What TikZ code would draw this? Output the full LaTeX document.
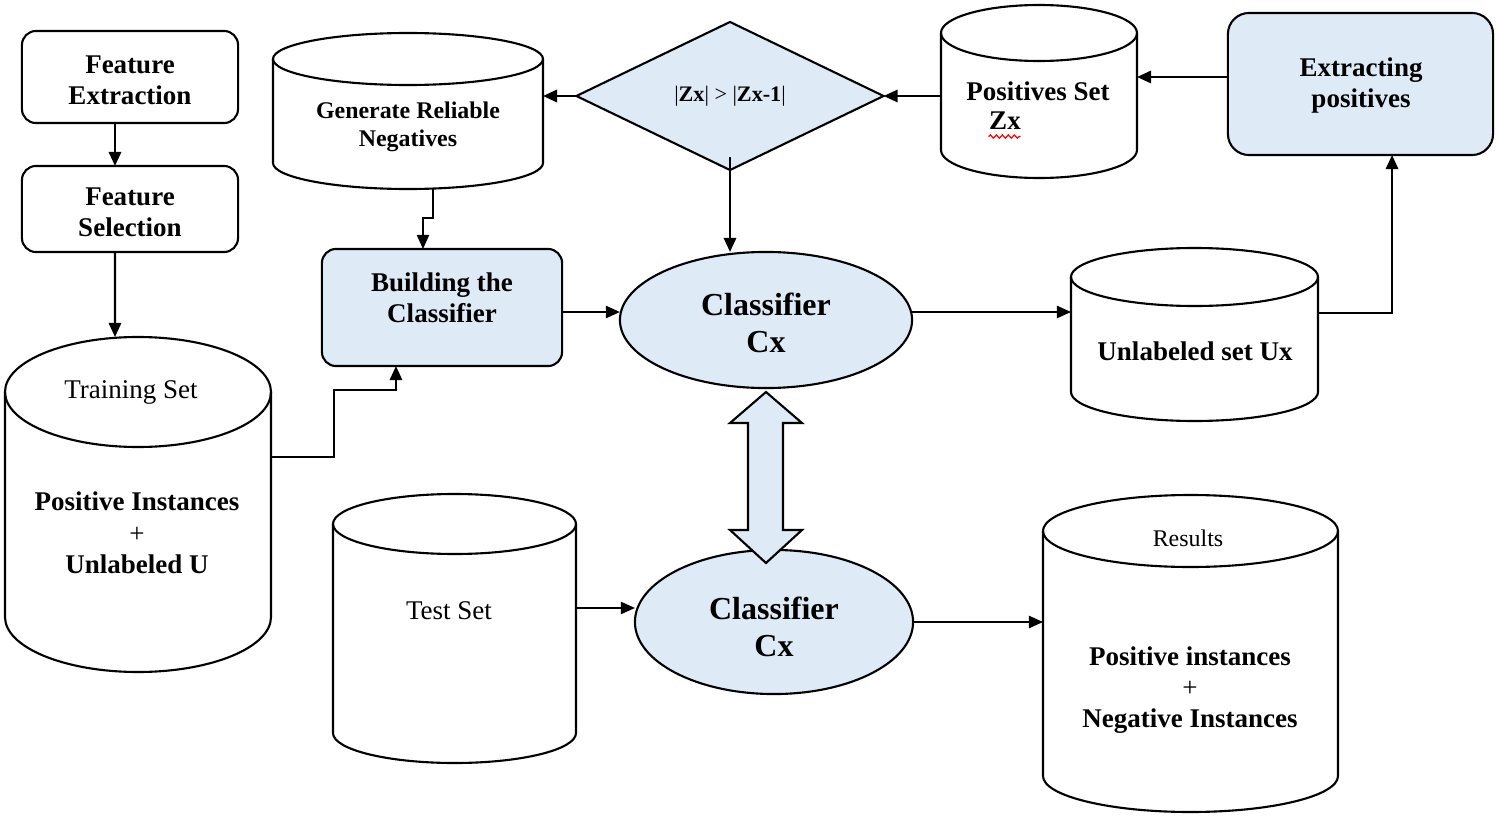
\documentclass[tikz,border=0pt]{standalone}
\usepackage{fontspec}
\setmainfont{Liberation Serif}
\usetikzlibrary{shapes.geometric,arrows.meta,decorations.pathmorphing,calc}
\definecolor{lb}{HTML}{DEEAF6}
\newcommand\cylnode[6]{%
  \pgfmathsetmacro\cylrx{(#3-#2)/2*0.01}%
  \pgfmathsetmacro\cylry{#6*0.01}%
  \pgfmathsetmacro\cylw{(#3-#2)*0.01}%
  \pgfmathsetmacro\cylh{(#5-#4+2*#6)*0.01}%
  \pgfmathsetmacro\cylcx{(#2+#3)/2}%
  \pgfmathsetmacro\cylcy{(#4+#5)/2}%
  \draw[shp,fill=white] (#2,#4) -- (#2,#5) arc[start angle=180,end angle=360,x radius=\cylrx cm,y radius=\cylry cm] -- (#3,#4) arc[start angle=0,end angle=180,x radius=\cylrx cm,y radius=\cylry cm] -- cycle;
  \draw[shp] (#2,#4) arc[start angle=180,end angle=360,x radius=\cylrx cm,y radius=\cylry cm];
  \node[anchorbox,minimum width=\cylw cm,minimum height=\cylh cm] (#1) at (\cylcx,\cylcy) {};
}
\begin{document}
\begin{tikzpicture}[x=0.01cm,y=-0.01cm,
  shp/.style={line width=0.6pt,draw=black},
  anchorbox/.style={draw=none,inner sep=0pt,outer sep=0pt,rectangle},
  rbox/.style={shp,rectangle,rounded corners=4pt,inner sep=0pt,outer sep=0pt},
  txt/.style={inner sep=0pt,align=center,font=\fontsize{7.68}{8.9}\selectfont\bfseries},
  ntxt/.style={inner sep=0pt,align=center,font=\fontsize{7.68}{8.9}\selectfont},
  bigtxt/.style={inner sep=0pt,align=center,font=\fontsize{9.1}{10.5}\selectfont\bfseries},
  smalltxt/.style={inner sep=0pt,align=center,font=\fontsize{6.8}{8}\selectfont\bfseries},
  arr/.style={line width=0.65pt,-{Triangle[length=4pt,width=3.5pt]}},
  tarr/.style={line width=0.4pt,-{Triangle[length=4pt,width=3.5pt]}},
  ell/.style={shp,ellipse,fill=lb,inner sep=0pt,outer sep=0pt}
]
\useasboundingbox[fill=white] (0,0) rectangle (1499,818);

% boxes
\node[rbox,minimum width=2.16cm,minimum height=0.92cm] (fe) at (130,77) {};
\node[txt] (fet) at (130,80) {Feature\\Extraction};
\node[rbox,minimum width=2.16cm,minimum height=0.86cm] (fs) at (130,209) {};
\node[txt] (fst) at (130,212.5) {Feature\\Selection};
\node[rbox,fill=lb,minimum width=2.40cm,minimum height=1.17cm] (bc) at (442,307.5) {};
\node[txt] (bct) at (442,298) {Building the\\Classifier};
\node[rbox,fill=lb,rounded corners=6pt,minimum width=2.65cm,minimum height=1.42cm] (ext) at (1360.5,84) {};
\node[txt] (extt) at (1361,85.5) {Extracting\\positives};

% cylinders
\cylnode{gen}{273}{543}{59}{163}{26}
\node[smalltxt] (gent) at (408,127) {Generate Reliable\\Negatives};
\cylnode{ps}{941}{1137}{33}{150}{28}
\node[txt] (pst) at (1038,91) {Positives Set};
\node[txt] (psz) at (1005,121) {Zx};
\draw[red,line width=0.35pt,decorate,decoration={snake,amplitude=0.45pt,segment length=1.7pt}] (psz.south west) ++(0,6) -- ++(32,0);
\cylnode{ux}{1071}{1318}{277}{392}{29}
\node[txt] (uxt) at (1195,351) {Unlabeled set Ux};
\cylnode{ts}{5}{271}{392}{617}{55}
\node[ntxt] (tst1) at (131,392) {Training Set};
\node[txt] (tst2) at (137,533) {Positive Instances\\{\mdseries +}\\Unlabeled U};
\cylnode{test}{333}{576}{524}{733}{30}
\node[ntxt] (testt) at (449,611) {Test Set};
\cylnode{res}{1043}{1338}{531}{776}{36}
\node[inner sep=0pt,font=\fontsize{6.8}{8}\selectfont] (rest1) at (1188,538) {Results};
\node[txt] (rest2) at (1190,690) {Positive instances\\{\mdseries +}\\Negative Instances};

% diamond
\node[shp,diamond,fill=lb,aspect=2.07,minimum width=3.07cm,minimum height=1.48cm,inner sep=0pt,outer sep=0pt,font=\fontsize{6.3}{7.5}\selectfont] (dia) at (730,96) {|\textbf{Zx}| > |\textbf{Zx-1}|};

% ellipses
\node[ell,minimum width=2.92cm,minimum height=1.36cm] (cl1) at (766,320) {};
\node[bigtxt] (cl1t) at (766,322.5) {Classifier\\Cx};
\node[ell,minimum width=2.78cm,minimum height=1.44cm] (cl2) at (774,622) {};
\node[bigtxt] (cl2t) at (774,627) {Classifier\\Cx};

% block double arrow
\draw[shp,fill=lb,line join=miter] (766,392) -- (802,423) -- (783,423) -- (783,530) -- (802,530) -- (766,563) -- (730,530) -- (748,530) -- (748,423) -- (730,423) -- cycle;

% connectors
\draw[arr] ([xshift=-0.15cm]fe.south) -- ([xshift=-0.15cm]fs.north);
\draw[arr] ([xshift=-0.15cm]fs.south) -- ([xshift=-0.23cm]ts.north);
\draw[arr] ([yshift=0.475cm]ts.east) -- ++(63,0) -- ++(0,-67) -| ([xshift=-0.46cm]bc.south);
\draw[tarr] ([xshift=0.25cm]gen.south) -- ++(0,29) -| ([xshift=-0.19cm]bc.north);
\draw[arr] (dia.west) -- (dia.west -| gen.east);
\draw[arr] (ps.west |- dia.east) -- (dia.east);
\coordinate (e1) at ([yshift=0.07cm]ext.west);
\draw[arr] (e1) -- (e1 -| ps.east);
\draw[arr] ([yshift=0.13cm]dia.south) -- (dia.south |- cl1.north);
\coordinate (b1) at ([yshift=-0.045cm]bc.east);
\draw[tarr,line width=0.5pt] (b1) -- (b1 -| cl1.west);
\coordinate (c1) at ([yshift=0.08cm]cl1.east);
\draw[tarr] (c1) -- (c1 -| ux.west);
\draw[arr] ([yshift=0.215cm]ux.east) -| ([xshift=0.315cm]ext.south);
\coordinate (t1) at ([yshift=0.205cm]test.east);
\draw[tarr] (t1) -- (t1 -| cl2.west);
\draw[tarr] (cl2.east) -- (cl2.east -| res.west);
\end{tikzpicture}
\end{document}
